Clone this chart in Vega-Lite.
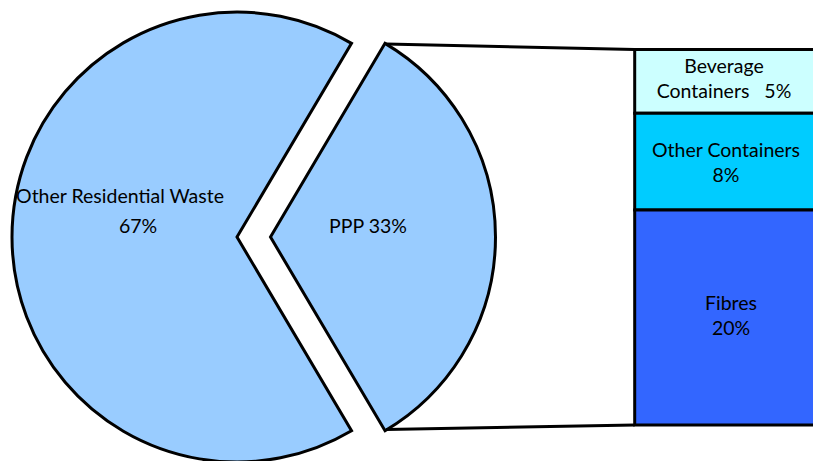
{
  "$schema": "https://vega.github.io/schema/vega-lite/v6.json",
  "width": 813,
  "height": 461,
  "autosize": {"type": "none"},
  "padding": 0,
  "background": "white",
  "config": {
    "view": {"stroke": null},
    "axis": {"disable": true},
    "legend": {"disable": true},
    "text": {"font": "Lato", "fontSize": 19.5, "color": "#000000"}
  },
  "datasets": {
    "pie": [
      {"name": "Other Residential Waste", "pct": 67, "line1": "Other Residential Waste", "line2": "67%"},
      {"name": "PPP", "pct": 33, "line1": "PPP 33%", "line2": ""}
    ],
    "bar": [
      {"category": "Beverage Containers", "share": 5.6, "label": "Beverage\nContainers\u00a0\u00a0\u00a05%"},
      {"category": "Other Containers", "share": 8.5, "label": "Other Containers\n8%"},
      {"category": "Fibres", "share": 18.9, "label": "Fibres\n20%"}
    ]
  },
  "layer": [
    {
      "data": {"name": "pie"},
      "transform": [
        {"stack": "pct", "groupby": [], "sort": [{"field": "name", "order": "descending"}], "as": ["t0", "t1"]},
        {"filter": "datum.name !== 'PPP'"}
      ],
      "mark": {"type": "arc", "radius": 225, "fill": "#99CCFF", "stroke": "#000000", "strokeWidth": 3, "strokeJoin": "miter"},
      "encoding": {
        "theta": {"field": "t0", "type": "quantitative", "scale": {"domain": [0, 100], "range": [0.534, 6.8172]}},
        "theta2": {"field": "t1"},
        "x": {"datum": 237, "type": "quantitative", "stack": null, "scale": {"domain": [0, 813], "nice": false, "zero": false}},
        "y": {"datum": 16.52, "type": "quantitative", "scale": {"domain": [-3.164, 37.35], "nice": false, "zero": false}}
      }
    },
    {
      "data": {"name": "pie"},
      "transform": [
        {"stack": "pct", "groupby": [], "sort": [{"field": "name", "order": "descending"}], "as": ["t0", "t1"]},
        {"filter": "datum.name === 'PPP'"}
      ],
      "mark": {"type": "arc", "radius": 225, "fill": "#99CCFF", "stroke": "#000000", "strokeWidth": 3, "strokeJoin": "miter"},
      "encoding": {
        "theta": {"field": "t0", "type": "quantitative", "scale": {"domain": [0, 100], "range": [0.534, 6.8172]}},
        "theta2": {"field": "t1"},
        "x": {"datum": 270.5, "type": "quantitative", "stack": null, "scale": {"domain": [0, 813], "nice": false, "zero": false}},
        "y": {"datum": 16.52, "type": "quantitative", "scale": {"domain": [-3.164, 37.35], "nice": false, "zero": false}}
      }
    },
    {
      "data": {"name": "bar"},
      "transform": [
        {"stack": "share", "groupby": [], "sort": [{"field": "share", "order": "descending"}], "as": ["b0", "b1"]}
      ],
      "mark": {"type": "rect", "stroke": "#000000", "strokeWidth": 3, "x2Offset": 12},
      "encoding": {
        "x": {"datum": 634.7, "type": "quantitative", "scale": {"domain": [0, 813], "nice": false, "zero": false}},
        "x2": {"datum": 813},
        "y": {"field": "b0", "type": "quantitative", "scale": {"domain": [-3.164, 37.35], "nice": false, "zero": false}},
        "y2": {"field": "b1"},
        "color": {
          "field": "category",
          "type": "nominal",
          "scale": {"domain": ["Beverage Containers", "Other Containers", "Fibres"], "range": ["#CCFFFF", "#00CCFF", "#3366FF"]},
          "legend": null
        }
      }
    },
    {
      "data": {"values": [{}]},
      "mark": {"type": "rule", "stroke": "#000000", "strokeWidth": 3},
      "encoding": {
        "x": {"datum": 386, "type": "quantitative", "scale": {"domain": [0, 813], "nice": false, "zero": false}},
        "y": {"datum": 33.48, "type": "quantitative", "scale": {"domain": [-3.164, 37.35], "nice": false, "zero": false}},
        "x2": {"datum": 634.7},
        "y2": {"datum": 33}
      }
    },
    {
      "data": {"values": [{}]},
      "mark": {"type": "rule", "stroke": "#000000", "strokeWidth": 3},
      "encoding": {
        "x": {"datum": 386, "type": "quantitative", "scale": {"domain": [0, 813], "nice": false, "zero": false}},
        "y": {"datum": -0.4, "type": "quantitative", "scale": {"domain": [-3.164, 37.35], "nice": false, "zero": false}},
        "x2": {"datum": 634.7},
        "y2": {"datum": 0}
      }
    },
    {
      "data": {"name": "pie"},
      "transform": [{"filter": "datum.name !== 'PPP'"}],
      "mark": {"type": "text", "align": "center", "baseline": "alphabetic"},
      "encoding": {
        "text": {"field": "line1"},
        "x": {"datum": 120, "type": "quantitative", "scale": {"domain": [0, 813], "nice": false, "zero": false}},
        "y": {"datum": 19.51, "type": "quantitative", "scale": {"domain": [-3.164, 37.35], "nice": false, "zero": false}}
      }
    },
    {
      "data": {"name": "pie"},
      "transform": [{"filter": "datum.name !== 'PPP'"}],
      "mark": {"type": "text", "align": "center", "baseline": "alphabetic"},
      "encoding": {
        "text": {"field": "line2"},
        "x": {"datum": 138, "type": "quantitative", "scale": {"domain": [0, 813], "nice": false, "zero": false}},
        "y": {"datum": 16.87, "type": "quantitative", "scale": {"domain": [-3.164, 37.35], "nice": false, "zero": false}}
      }
    },
    {
      "data": {"name": "pie"},
      "transform": [{"filter": "datum.name === 'PPP'"}],
      "mark": {"type": "text", "align": "center", "baseline": "alphabetic"},
      "encoding": {
        "text": {"field": "line1"},
        "x": {"datum": 368, "type": "quantitative", "scale": {"domain": [0, 813], "nice": false, "zero": false}},
        "y": {"datum": 16.87, "type": "quantitative", "scale": {"domain": [-3.164, 37.35], "nice": false, "zero": false}}
      }
    },
    {
      "data": {"name": "bar"},
      "transform": [{"filter": "datum.category === 'Beverage Containers'"}],
      "mark": {"type": "text", "align": "center", "baseline": "alphabetic", "lineBreak": "\n", "lineHeight": 25},
      "encoding": {
        "text": {"field": "label"},
        "x": {"datum": 724, "type": "quantitative", "scale": {"domain": [0, 813], "nice": false, "zero": false}},
        "y": {"datum": 30.93, "type": "quantitative", "scale": {"domain": [-3.164, 37.35], "nice": false, "zero": false}}
      }
    },
    {
      "data": {"name": "bar"},
      "transform": [{"filter": "datum.category === 'Other Containers'"}],
      "mark": {"type": "text", "align": "center", "baseline": "alphabetic", "lineBreak": "\n", "lineHeight": 25},
      "encoding": {
        "text": {"field": "label"},
        "x": {"datum": 726, "type": "quantitative", "scale": {"domain": [0, 813], "nice": false, "zero": false}},
        "y": {"datum": 23.55, "type": "quantitative", "scale": {"domain": [-3.164, 37.35], "nice": false, "zero": false}}
      }
    },
    {
      "data": {"name": "bar"},
      "transform": [{"filter": "datum.category === 'Fibres'"}],
      "mark": {"type": "text", "align": "center", "baseline": "alphabetic", "lineBreak": "\n", "lineHeight": 25},
      "encoding": {
        "text": {"field": "label"},
        "x": {"datum": 731, "type": "quantitative", "scale": {"domain": [0, 813], "nice": false, "zero": false}},
        "y": {"datum": 10.11, "type": "quantitative", "scale": {"domain": [-3.164, 37.35], "nice": false, "zero": false}}
      }
    }
  ]
}
